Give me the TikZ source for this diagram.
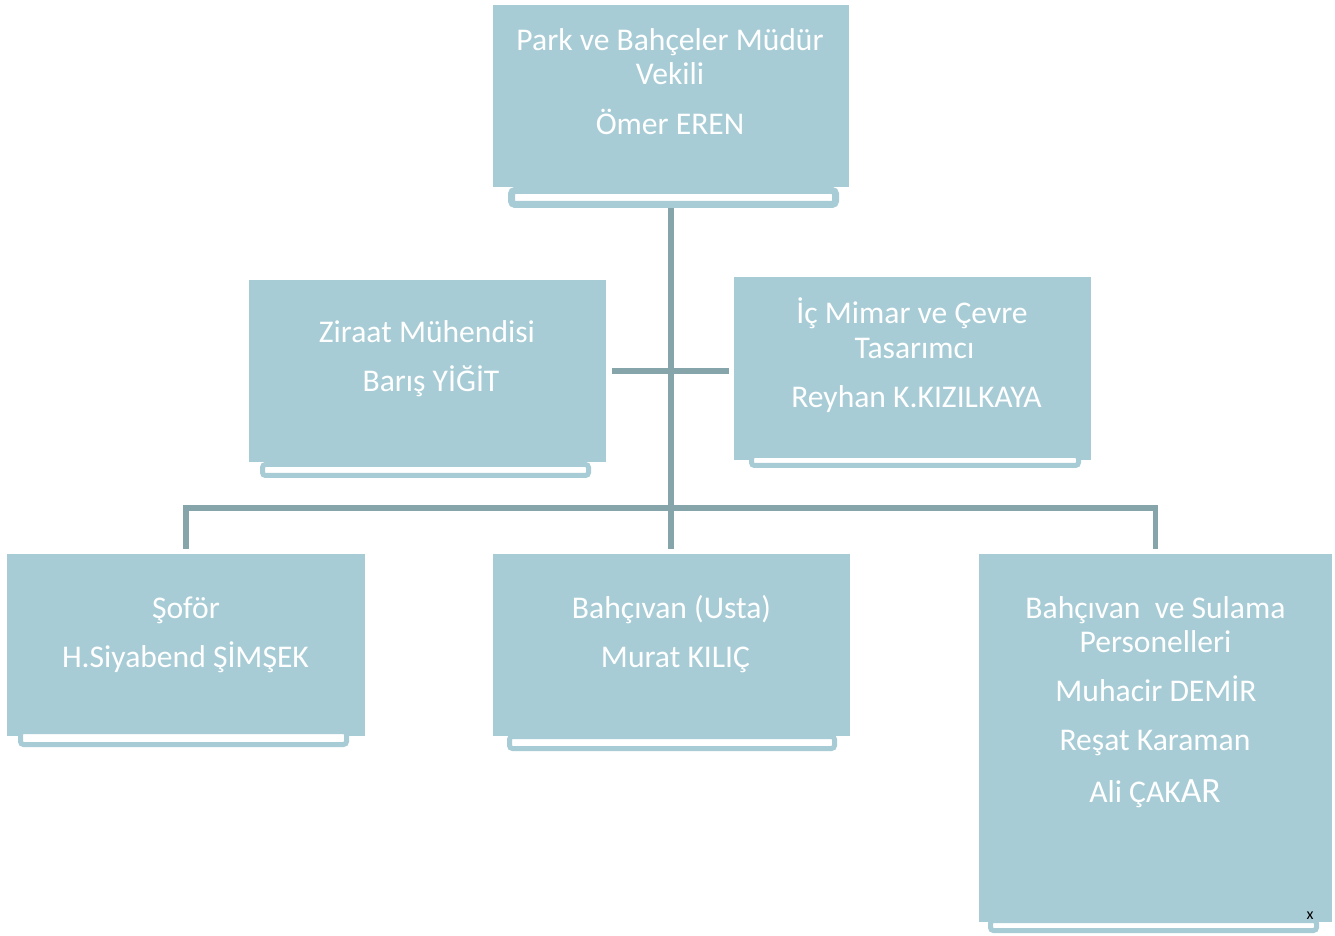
\documentclass[tikz,border=0pt]{standalone}
\usepackage{fontspec}
\setmainfont{Carlito}
\usetikzlibrary{calc}
\definecolor{boxfill}{RGB}{168,204,214}
\definecolor{linecol}{RGB}{133,165,171}
\begin{document}
\begin{tikzpicture}[x=0.5pt,y=-0.5pt,
  box/.style={fill=boxfill, draw=none, inner sep=0pt, outer sep=0pt},
  bar/.style={fill=white, draw=boxfill, line width=2.5pt, rounded corners=1.5pt, inner sep=0pt, outer sep=0pt},
  conn/.style={draw=linecol, line width=2.75pt},
  txt/.style={text=white, font=\fontsize{15.8}{18}\selectfont, anchor=base, inner sep=0pt},
]
\useasboundingbox[fill=white] (0,0) rectangle (1335,936);

% boxes (positions only; drawn below)
\path
  (671,96)     node[box, minimum width=178pt,   minimum height=91pt]   (top)    {}
  (427.5,371)  node[box, minimum width=178.5pt, minimum height=91pt]   (ziraat) {}
  (912.5,368.5) node[box, minimum width=178.5pt, minimum height=91.5pt] (ic)    {}
  (186,645)    node[box, minimum width=179pt,   minimum height=91pt]   (sofor)  {}
  (671.5,645)  node[box, minimum width=178.5pt, minimum height=91pt]   (mid)    {}
  (1155.5,738) node[box, minimum width=176.5pt, minimum height=184pt]  (right)  {};

% bottom bars (positions)
\path
  (673.5,197.5) node[bar, draw=none, fill=none, line width=3.5pt, minimum width=162pt, minimum height=7pt] (topbar) {}
  (425.5,470)   node[bar, draw=none, fill=none, minimum width=163pt,   minimum height=5.5pt] (ziraatbar) {}
  (915,460.5)   node[bar, draw=none, fill=none, minimum width=163.5pt, minimum height=5pt]   (icbar) {}
  (183.5,738)   node[bar, draw=none, fill=none, minimum width=163pt,   minimum height=6.5pt] (soforbar) {}
  (672,742.5)   node[bar, draw=none, fill=none, minimum width=162.5pt, minimum height=6pt]   (midbar) {}
  (1153.5,925.5) node[bar, draw=none, fill=none, minimum width=163pt,  minimum height=5pt]   (rightbar) {};

% connectors
\draw[conn] (top.south |- topbar.south) -- ([yshift=2.5pt]top.south |- mid.north);
\draw[conn] ([xshift=3pt]ziraat.east) -- ([xshift=-2.5pt]ziraat.east -| ic.west);
\draw[conn] ([yshift=2.5pt]sofor.north) -- ([yshift=23pt]sofor.north) -| ([yshift=2.5pt]right.north);

% draw boxes
\foreach \n in {top,ziraat,ic,sofor,mid,right}
  \fill[boxfill] (\n.north west) rectangle (\n.south east);

% draw bars
\draw[fill=white, draw=boxfill, line width=3.5pt, rounded corners=1.75pt]
  (topbar.north west) rectangle (topbar.south east);
\foreach \n in {ziraatbar,icbar,soforbar,midbar,rightbar}
  \draw[fill=white, draw=boxfill, line width=2.5pt, rounded corners=1.5pt]
    (\n.north west) rectangle (\n.south east);

% texts
\node[txt] (t1a) at (670,51)  {Park ve Bahçeler Müdür};
\node[txt] (t1b) at (670,85)  {Vekili};
\node[txt] (t1c) at (670,135) {Ömer EREN};

\node[txt] (t2a) at (427,343) {Ziraat Mühendisi};
\node[txt] (t2b) at (431,392) {Barış YİĞİT};

\node[txt] (t3a) at (912,324)   {İç Mimar ve Çevre};
\node[txt] (t3b) at (914.5,359) {Tasarımcı};
\node[txt] (t3c) at (916.5,408) {Reyhan K.KIZILKAYA};

\node[txt] (t4a) at (186,618)   {Şoför};
\node[txt] (t4b) at (185.5,667) {H.Siyabend ŞİMŞEK};

\node[txt] (t5a) at (671.5,618) {Bahçıvan (Usta)};
\node[txt] (t5b) at (675.5,667) {Murat KILIÇ};

\node[txt] (t6a) at (1155.5,618) {Bahçıvan\ \ ve Sulama};
\node[txt] (t6b) at (1155.5,652) {Personelleri};
\node[txt] (t6c) at (1156,701)   {Muhacir DEMİR};
\node[txt] (t6d) at (1155,750)   {Reşat Karaman};
\node[txt] (t6e) at (1155,802)   {Ali ÇAK{\fontsize{17.8}{20}\selectfont AR}};

\node[text=black, font=\fontsize{8}{9}\selectfont, inner sep=0pt] (xmark) at (1310,915.5) {x};
\end{tikzpicture}
\end{document}
